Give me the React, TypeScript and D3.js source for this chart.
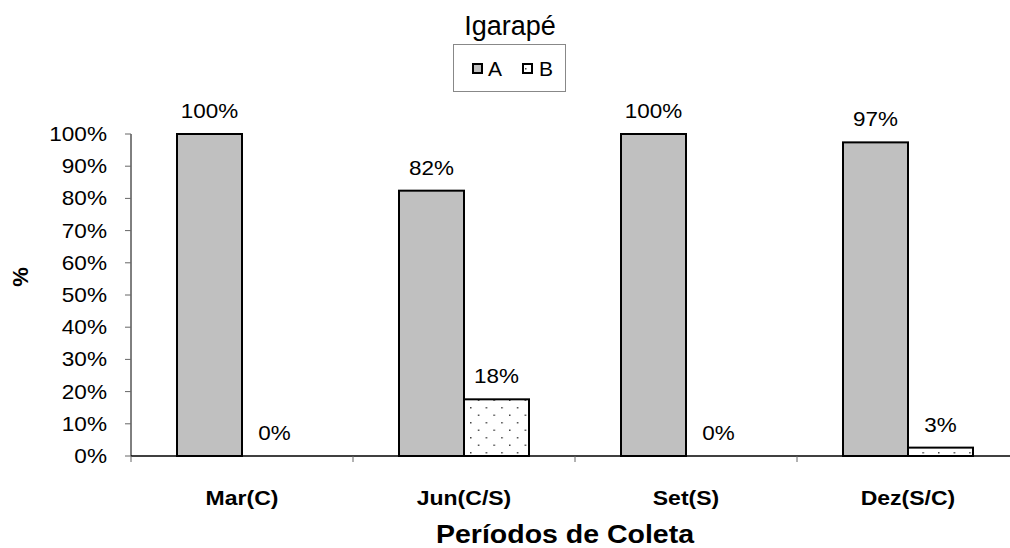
import React from "react";
import * as d3 from "d3";

const categories = ["Mar(C)", "Jun(C/S)", "Set(S)", "Dez(S/C)"];
const seriesNames = ["A", "B"];
const valuesA = [100, 82.4, 100, 97.4];
const valuesB = [0, 17.6, 0, 2.6];
const labelsA = ["100%", "82%", "100%", "97%"];
const labelsB = ["0%", "18%", "0%", "3%"];
const yTicks = [0, 10, 20, 30, 40, 50, 60, 70, 80, 90, 100];

const W = 1010;
const H = 548;
const left = 131;
const bandW = 222;
const top = 134;
const bottom = 456;
const font = "'Liberation Sans', Arial, sans-serif";

type TP = {
  x: number;
  y: number;
  size: number;
  sx?: number;
  anchor?: "start" | "middle" | "end";
  bold?: boolean;
  children: React.ReactNode;
};

function T({ x, y, size, sx = 1, anchor = "start", bold = false, children }: TP) {
  return (
    <text
      transform={`translate(${x},${y}) scale(${sx},1)`}
      textAnchor={anchor}
      fontSize={size}
      fontWeight={bold ? "bold" : "normal"}
      fill="#000"
    >
      {children}
    </text>
  );
}

export default function App() {
  const x = d3
    .scaleBand<string>()
    .domain(categories)
    .range([left, left + bandW * categories.length]);
  const y = d3.scaleLinear().domain([0, 100]).range([bottom, top]);
  const barW = 65;
  const series = [valuesA, valuesB];
  const labels = [labelsA, labelsB];

  return (
    <svg
      width={W}
      height={H}
      style={{ position: "absolute", left: 0, top: 0, background: "#fff" }}
      fontFamily={font}
    >
      <defs>
        <pattern id="dots" width="15.6" height="15" patternUnits="userSpaceOnUse" x="2" y="2">
          <rect width="15.6" height="15" fill="#fff" />
          <rect x="0" y="0" width="1.5" height="1.5" fill="#444" />
          <rect x="7.8" y="7.5" width="1.5" height="1.5" fill="#444" />
        </pattern>
      </defs>
      {/* title and legend */}
      <T x={510} y={35} size={27} anchor="middle">
        Igarapé
      </T>
      <rect x={453.5} y={44.5} width={112} height={47} fill="#fff" stroke="#888" strokeWidth={1} />
      {seriesNames.map((s, i) => (
        <g key={s}>
          <rect
            x={473 + i * 50}
            y={64}
            width={9}
            height={9}
            fill={i === 0 ? "#c0c0c0" : "#fff"}
            stroke="#000"
            strokeWidth={2}
          />
          {i === 1 && <rect x={525} y={68} width={1.5} height={1.5} fill="#444" />}
          <T x={488 + i * 51} y={76} size={21}>
            {s}
          </T>
        </g>
      ))}
      {/* y axis */}
      <line x1={left} x2={left} y1={top} y2={bottom} stroke="#000" strokeWidth={1} />
      {yTicks.map((t) => (
        <g key={t}>
          <line x1={left - 6} x2={left} y1={y(t)} y2={y(t)} stroke="#666" />
          <T x={107} y={y(t) + 7} size={20} sx={1.13} anchor="end">
            {t}%
          </T>
        </g>
      ))}
      <text
        transform={`translate(28,277) rotate(-90)`}
        textAnchor="middle"
        fontSize={22}
        fontWeight="bold"
      >
        %
      </text>
      {/* bars */}
      {categories.map((c, ci) => {
        const cx = (x(c) as number) + x.bandwidth() / 2;
        return (
          <g key={c}>
            {series.map((vals, si) => {
              const bx = si === 0 ? cx - barW : cx;
              const v = vals[ci];
              return (
                <g key={si}>
                  {v > 0 && (
                    <rect
                      x={bx}
                      y={y(v)}
                      width={barW}
                      height={bottom - y(v)}
                      fill={si === 0 ? "#c0c0c0" : "url(#dots)"}
                      stroke="#000"
                      strokeWidth={2}
                    />
                  )}
                  <T x={bx + barW / 2} y={y(v) - 16} size={21} sx={1.07} anchor="middle">
                    {labels[si][ci]}
                  </T>
                </g>
              );
            })}
            <T x={cx} y={505} size={20} sx={1.15} anchor="middle" bold>
              {c}
            </T>
          </g>
        );
      })}
      {/* x axis */}
      <line x1={left} x2={left + bandW * 4} y1={bottom} y2={bottom} stroke="#000" strokeWidth={1.5} />
      {categories.map((c, i) => (
        <line
          key={c}
          x1={left + bandW * (i + 1)}
          x2={left + bandW * (i + 1)}
          y1={bottom}
          y2={bottom + 6}
          stroke="#666"
        />
      ))}
      <line x1={left} x2={left} y1={bottom} y2={bottom + 6} stroke="#666" />
      <T x={565} y={543} size={25} sx={1.14} anchor="middle" bold>
        Períodos de Coleta
      </T>
    </svg>
  );
}
